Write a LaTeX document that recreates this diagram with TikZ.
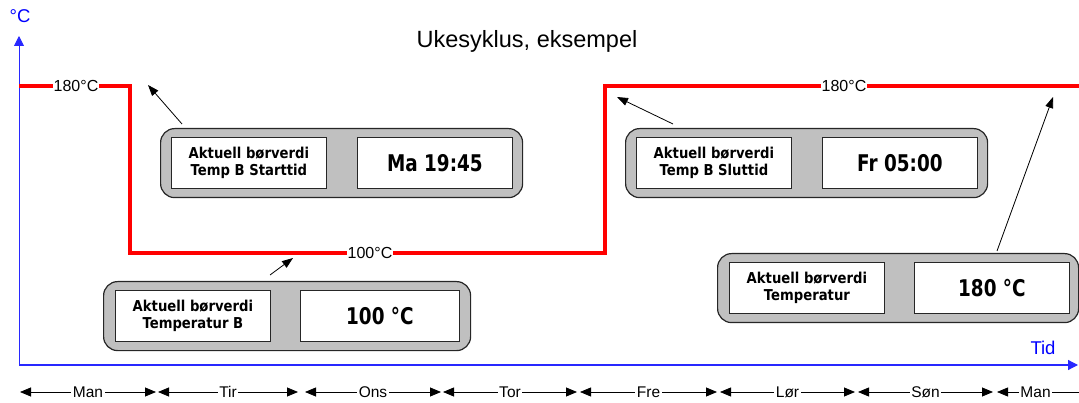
\documentclass[tikz,border=0pt]{standalone}
\usepackage{fontspec}
\setmainfont{Liberation Sans}
\newfontfamily\panelfont[FakeStretch=0.88]{DejaVu Sans}
\newfontfamily\valuefont[FakeStretch=0.8]{DejaVu Sans}
\usetikzlibrary{arrows.meta}
\definecolor{axisblue}{RGB}{40,40,255}
\definecolor{panelgray}{RGB}{192,192,192}
\definecolor{tempred}{RGB}{255,0,0}
\begin{document}
\begin{tikzpicture}[x=1pt,y=-1pt,
  panel/.style={draw=black!85, line width=1.2pt, fill=panelgray, rounded corners=14pt,
    minimum width=362pt, minimum height=69pt, anchor=north west, inner sep=0pt},
  lbox/.style={draw=black!85, line width=0.8pt, fill=white, minimum width=155pt,
    minimum height=51pt, inner sep=0pt, anchor=north west, align=center,
    font=\panelfont\bfseries\fontsize{15}{17}\selectfont},
  vbox/.style={lbox, font=\valuefont\bfseries\fontsize{23}{26}\selectfont},
  templab/.style={fill=white, inner sep=1pt, font=\fontsize{16}{18}\selectfont},
  daylab/.style={fill=white, inner sep=1.5pt, font=\fontsize{15.5}{17}\selectfont},
  redline/.style={draw=tempred, line width=4pt},
  pointer/.style={draw=black, line width=0.8pt, -{Triangle[length=11pt,width=8pt]}},
  dayarr/.style={draw=black, line width=0.8pt, {Triangle[length=11pt,width=9pt]}-{Triangle[length=11pt,width=9pt]}},
  dayarrl/.style={draw=black, line width=0.8pt, {Triangle[length=11pt,width=9pt]}-},
  axis/.style={draw=axisblue, line width=1.2pt, -{Triangle[length=10pt,width=10pt]}},
  bluetxt/.style={text=blue, font=\fontsize{18.5}{20}\selectfont, inner sep=0pt}
]
\useasboundingbox (0,0) rectangle (1079,403);

% axes
\coordinate (origin) at (19,365);
\coordinate (ytop) at (19,36);
\coordinate (xend) at (1078,365);
\draw[axis, line width=0.9pt] (origin) -- (ytop);
\draw[axis] (origin) -- (xend);
\node[bluetxt, anchor=base] (ylabel) at (20,23) {°C};
\node[bluetxt, anchor=base] (xlabel) at (1043,355) {Tid};

% title
\node[anchor=base, font=\fontsize{23.5}{26}\selectfont, inner sep=0pt] (title) at (527,48) {Ukesyklus, eksempel};

% red temperature line
\coordinate (r0) at (19,86);
\coordinate (r1) at (130,86);
\coordinate (r2) at (130,253);
\coordinate (r3) at (605,253);
\coordinate (r4) at (605,86);
\coordinate (r5) at (1079,86);
\draw[redline] (r0) -- (r1) -- (r2) -- (r3) -- (r4) -- (r5);
\node[templab] (t1) at (76,86) {180°C};
\node[templab] (t2) at (370,253) {100°C};
\node[templab] (t3) at (844,86) {180°C};

% panels
\node[panel] (p1) at (160,128) {};
\node[lbox] (p1l) at (171,137) {Aktuell børverdi\\Temp B Starttid};
\node[vbox] (p1v) at (357,137) {Ma 19:45};

\node[panel, minimum width=367pt] (p2) at (103,281) {};
\node[lbox] (p2l) at (115,290) {Aktuell børverdi\\Temperatur B};
\node[vbox, minimum width=159pt] (p2v) at (300,290) {100 °C};

\node[panel] (p3) at (625,128) {};
\node[lbox] (p3l) at (636,137) {Aktuell børverdi\\Temp B Sluttid};
\node[vbox] (p3v) at (822,137) {Fr 05:00};

\node[panel, minimum width=361pt] (p4) at (717,253) {};
\node[lbox] (p4l) at (729,262) {Aktuell børverdi\\Temperatur};
\node[vbox] (p4v) at (914,262) {180 °C};

% pointers
\coordinate (a1s) at (182,124);
\coordinate (a1e) at (148,85);
\coordinate (a2s) at (270,275);
\coordinate (a2e) at (293,258);
\coordinate (a3s) at (673,124);
\coordinate (a3e) at (617,97);
\coordinate (a4s) at (997,251);
\coordinate (a4e) at (1053,97);
\draw[pointer] (a1s) -- (a1e);
\draw[pointer] (a2s) -- (a2e);
\draw[pointer] (a3s) -- (a3e);
\draw[pointer] (a4s) -- (a4e);

% day axis
\coordinate (d0a) at (20,392);  \coordinate (d0b) at (156,392);
\coordinate (d1a) at (158,392); \coordinate (d1b) at (298,392);
\coordinate (d2a) at (305,392); \coordinate (d2b) at (441,392);
\coordinate (d3a) at (443,392); \coordinate (d3b) at (577,392);
\coordinate (d4a) at (580,392); \coordinate (d4b) at (717,392);
\coordinate (d5a) at (720,392); \coordinate (d5b) at (855,392);
\coordinate (d6a) at (858,392); \coordinate (d6b) at (993,392);
\coordinate (d7a) at (997,392); \coordinate (d7b) at (1079,392);
\draw[dayarr] (d0a) -- node[daylab] (day0) {Man} (d0b);
\draw[dayarr] (d1a) -- node[daylab] (day1) {Tir} (d1b);
\draw[dayarr] (d2a) -- node[daylab] (day2) {Ons} (d2b);
\draw[dayarr] (d3a) -- node[daylab] (day3) {Tor} (d3b);
\draw[dayarr] (d4a) -- node[daylab] (day4) {Fre} (d4b);
\draw[dayarr] (d5a) -- node[daylab] (day5) {Lør} (d5b);
\draw[dayarr] (d6a) -- node[daylab] (day6) {Søn} (d6b);
\draw[dayarrl] (d7a) -- node[daylab, pos=0.47] (day7) {Man} (d7b);
\end{tikzpicture}
\end{document}
